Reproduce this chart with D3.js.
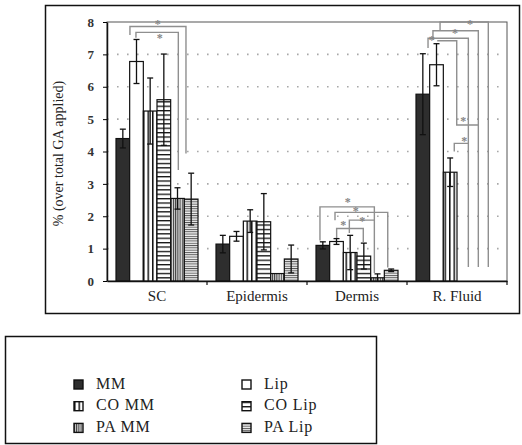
<!DOCTYPE html>
<html>
<head>
<meta charset="utf-8">
<script src="https://cdn.jsdelivr.net/npm/d3@7/dist/d3.min.js"></script>
<style>
    body { margin: 0; background: #fff; }
    svg text { font-family: "Liberation Serif", "Times New Roman", serif; fill: #222; }
</style>
</head>
<body>
<svg id="chart" width="522" height="445"></svg>
<script>
const categories = ["SC", "Epidermis", "Dermis", "R. Fluid"];
const seriesNames = ["MM", "Lip", "CO MM", "CO Lip", "PA MM", "PA Lip"];
const yTicks = [0, 1, 2, 3, 4, 5, 6, 7, 8];

// mean and SD per series, one value per category
const meanMM = [4.4, 1.14, 1.1, 5.77];
const sdMM = [0.29, 0.27, 0.11, 1.25];
const meanLip = [6.78, 1.38, 1.22, 6.68];
const sdLip = [0.68, 0.15, 0.09, 0.65];
const meanCOMM = [5.25, 1.85, 0.88, 3.36];
const sdCOMM = [1.02, 0.35, 0.53, 0.44];
const meanCOLip = [5.6, 1.83, 0.77, 0];
const sdCOLip = [1.41, 0.87, 0.4, 0];
const meanPAMM = [2.55, 0.23, 0.1, 0];
const sdPAMM = [0.33, 0, 0.12, 0];
const meanPALip = [2.53, 0.68, 0.33, 0];
const sdPALip = [0.8, 0.43, 0.04, 0];

// significance brackets: [category, points as [bar slot, value], star as [bar slot, value]]
const brackets = [
    ["SC", [[1.02, 7.6], [1.02, 7.86], [5.12, 7.86], [5.12, 3.94]], [3.05, 7.97]],
    ["SC", [[1.46, 7.51], [1.46, 7.68], [4.56, 7.68], [4.56, 3.43]], [3.2, 7.54]],
    ["Dermis", [[0.29, 1.25], [0.29, 2.29], [4.27, 2.29], [4.27, 0.25]], [2.32, 2.5]],
    ["Dermis", [[1.39, 1.88], [1.39, 2.12], [5.25, 2.12], [5.25, 0.42]], [2.9, 2.22]],
    ["Dermis", [[2.44, 1.48], [2.44, 1.88], [4.27, 1.88]], [3.39, 1.9]],
    ["Dermis", [[1.51, 1.33], [1.51, 1.62], [3.46, 1.62], [3.46, 1.2]], [2.0, 1.78]],
    ["R. Fluid", [[1.76, 7.75], [1.76, 8.0], [5.29, 8.0], [5.29, 0.43]], [3.95, 7.97]],
    ["R. Fluid", [[1.24, 7.45], [1.24, 7.73], [4.56, 7.73], [4.56, 0.43]], [2.85, 7.7]],
    ["R. Fluid", [[0.88, 7.2], [0.88, 7.5], [3.83, 7.5], [3.83, 0.43]], [1.15, 7.5]],
    ["R. Fluid", [[1.55, 7.42], [2.98, 7.42], [2.98, 4.82], [4.56, 4.82]], [3.46, 5.0]],
    ["R. Fluid", [[2.8, 4.0], [2.8, 4.25], [3.83, 4.25]], [3.53, 4.36]]
];

const means = [meanMM, meanLip, meanCOMM, meanCOLip, meanPAMM, meanPALip];
const sds = [sdMM, sdLip, sdCOMM, sdCOLip, sdPAMM, sdPALip];
const fills = ["#2e2e2e", "#fff", "url(#coMM)", "url(#coLip)", "url(#paMM)", "url(#paLip)"];
const serif = '"Liberation Serif", "Times New Roman", serif';

const bars = [];
categories.forEach((c, ci) => {
    seriesNames.forEach((s, si) => {
        bars.push({ category: c, series: s, value: means[si][ci], sd: sds[si][ci], fill: fills[si] });
    });
});

const svg = d3.select("#chart");

// hatch patterns
const defs = svg.append("defs");
function stripes(id, vertical, step, lineW, bg, fg) {
    const p = defs.append("pattern")
        .attr("id", id)
        .attr("patternUnits", "userSpaceOnUse")
        .attr("width", vertical ? step : 10)
        .attr("height", vertical ? 10 : step);
    p.append("rect").attr("width", 10).attr("height", 10).attr("fill", bg);
    p.append("rect")
        .attr("width", vertical ? lineW : 10)
        .attr("height", vertical ? 10 : lineW)
        .attr("fill", fg);
}
stripes("coMM", true, 4.5, 1.5, "#fff", "#111");
stripes("coLip", false, 4.4, 1.3, "#fff", "#111");
stripes("paMM", true, 2.2, 1.0, "#e0e0e0", "#3a3a3a");
stripes("paLip", false, 2.3, 0.9, "#ececec", "#555");

// outer frames
svg.append("rect")
    .attr("x", 45.5).attr("y", 5.5)
    .attr("width", 474).attr("height", 308)
    .attr("fill", "none").attr("stroke", "#111").attr("stroke-width", 1.5);

svg.append("rect")
    .attr("x", 5.5).attr("y", 336.5)
    .attr("width", 371).attr("height", 107)
    .attr("fill", "none").attr("stroke", "#111").attr("stroke-width", 1.5);

const plot = { left: 107, top: 22, width: 400, height: 259 };
const g = svg.append("g").attr("transform", `translate(${plot.left},${plot.top})`);

const x0 = d3.scaleBand().domain(categories).range([0, plot.width]).padding(0);
const x1 = d3.scaleBand().domain(seriesNames)
    .range([x0.bandwidth() * 0.09, x0.bandwidth() * 0.91]).padding(0);
const slot = d3.scaleLinear().domain([0, seriesNames.length]).range(x1.range());
const y = d3.scaleLinear().domain([0, 8]).range([plot.height, 0]);

// dotted grid
g.selectAll(".grid")
    .data(yTicks.filter(t => t > 0 && t < 8))
    .enter()
    .append("line")
    .attr("x1", 0).attr("x2", plot.width)
    .attr("y1", d => y(d)).attr("y2", d => y(d))
    .attr("stroke", "#a8a8a8")
    .attr("stroke-width", 1.6)
    .attr("stroke-dasharray", "1.6,8.4");

// plot frame (top / right)
g.append("rect")
    .attr("x", 0).attr("y", 0)
    .attr("width", plot.width).attr("height", plot.height)
    .attr("fill", "none").attr("stroke", "#555").attr("stroke-width", 1);

// bars
g.selectAll(".bar")
    .data(bars.filter(d => d.value > 0))
    .enter()
    .append("rect")
    .attr("class", "bar")
    .attr("x", d => x0(d.category) + x1(d.series))
    .attr("y", d => y(d.value))
    .attr("width", x1.bandwidth())
    .attr("height", d => y(0) - y(d.value))
    .attr("fill", d => d.fill)
    .attr("stroke", "#111")
    .attr("stroke-width", 1.2);

// error bars
const errs = g.selectAll(".err")
    .data(bars.filter(d => d.sd > 0))
    .enter()
    .append("g")
    .attr("class", "err")
    .attr("transform", d => `translate(${x0(d.category) + x1(d.series) + x1.bandwidth() / 2},0)`)
    .attr("stroke", "#111")
    .attr("stroke-width", 1.3);

errs.append("line")
    .attr("y1", d => y(Math.max(0, d.value - d.sd)))
    .attr("y2", d => y(d.value + d.sd));
errs.append("line")
    .attr("x1", -3).attr("x2", 3)
    .attr("y1", d => y(d.value + d.sd)).attr("y2", d => y(d.value + d.sd));
errs.filter(d => d.value - d.sd > 0).append("line")
    .attr("x1", -3).attr("x2", 3)
    .attr("y1", d => y(d.value - d.sd)).attr("y2", d => y(d.value - d.sd));

// significance brackets
const bline = d3.line()
    .x(p => p[0])
    .y(p => p[1]);

brackets.forEach(([cat, pts, star]) => {
    g.append("path")
        .attr("d", bline(pts.map(p => [x0(cat) + slot(p[0]), y(p[1])])))
        .attr("fill", "none")
        .attr("stroke", "#8f8f8f")
        .attr("stroke-width", 1.4);
    g.append("text")
        .attr("x", x0(cat) + slot(star[0]))
        .attr("y", y(star[1]) + 5.5)
        .attr("text-anchor", "middle")
        .style("font-family", serif)
        .style("font-size", "12px")
        .style("font-weight", "bold")
        .style("fill", "#858585")
        .text("*");
});

// axes
const yAxis = g.append("g")
    .call(d3.axisLeft(y).tickValues(yTicks).tickSize(4).tickPadding(9).tickSizeOuter(0));
yAxis.select(".domain").attr("stroke", "#111").attr("stroke-width", 1.5);
yAxis.selectAll("text")
    .style("font-family", serif)
    .style("font-size", "13px")
    .style("font-weight", "bold")
    .style("fill", "#333");

const xAxis = g.append("g")
    .attr("transform", `translate(0,${plot.height})`)
    .call(d3.axisBottom(x0).tickSize(0).tickPadding(9).tickSizeOuter(0));
xAxis.select(".domain").attr("stroke", "#111").attr("stroke-width", 1.5);
xAxis.selectAll("text")
    .style("font-family", serif)
    .style("font-size", "15px");

g.selectAll(".xtick")
    .data(categories.slice(1).concat([null]))
    .enter()
    .append("line")
    .attr("x1", (d, i) => x0.step() * (i + 1))
    .attr("x2", (d, i) => x0.step() * (i + 1))
    .attr("y1", plot.height)
    .attr("y2", plot.height + 4)
    .attr("stroke", "#111")
    .attr("stroke-width", 1.2);

g.append("text")
    .attr("transform", `translate(-44,${plot.height / 2 + 2}) rotate(-90)`)
    .attr("text-anchor", "middle")
    .style("font-family", serif)
    .style("font-size", "14px")
    .text("% (over total GA applied)");

// legend
const legend = svg.append("g").attr("transform", "translate(74,380)");
const legendItems = legend.selectAll(".item")
    .data(seriesNames)
    .enter()
    .append("g")
    .attr("transform", (d, i) => `translate(${(i % 2) * 168},${Math.floor(i / 2) * 21.7})`);

legendItems.append("rect")
    .attr("width", 9).attr("height", 9)
    .attr("fill", (d, i) => fills[i])
    .attr("stroke", "#111")
    .attr("stroke-width", 1.4);

legendItems.append("text")
    .attr("x", 22)
    .attr("y", 8.5)
    .style("font-family", serif)
    .style("font-size", "16px")
    .style("letter-spacing", "0.8px")
    .text(d => d);
</script>
</body>
</html>
